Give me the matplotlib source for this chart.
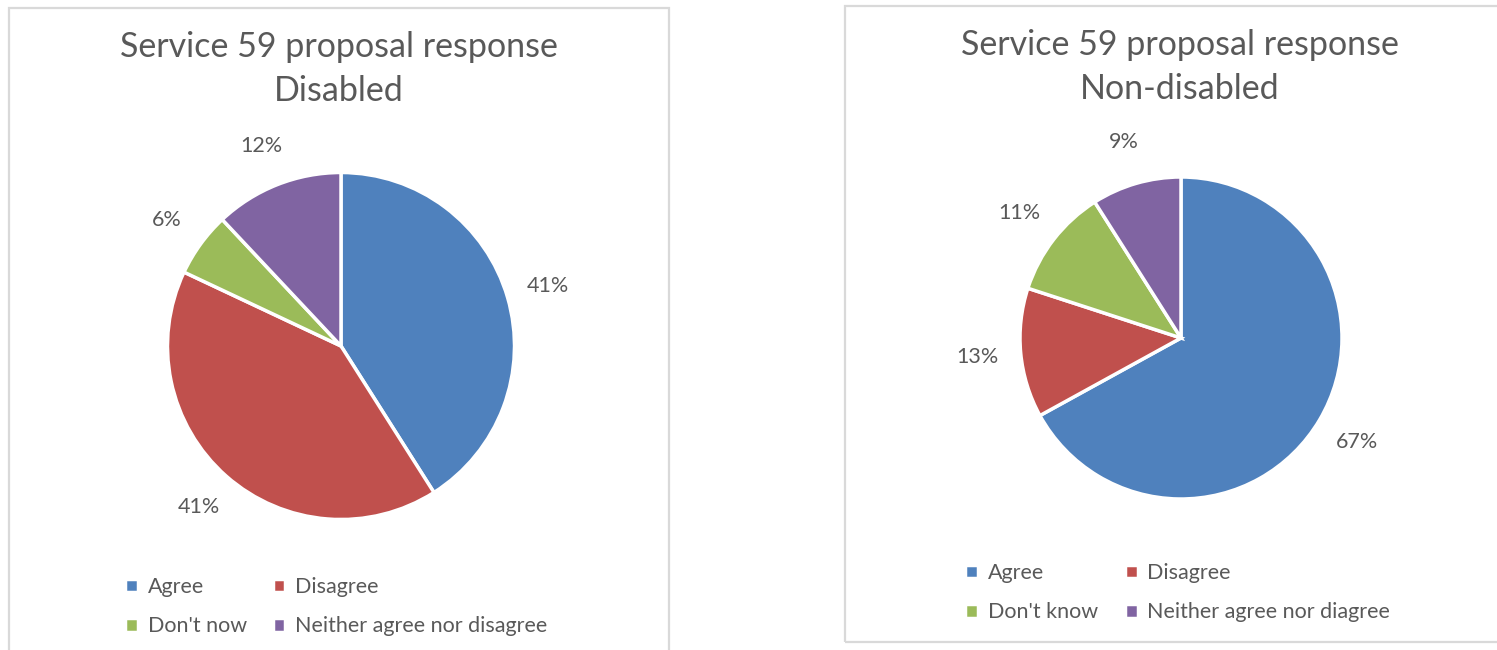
import matplotlib
matplotlib.use("Agg")
import matplotlib.pyplot as plt
from matplotlib.patches import Rectangle

plt.rcParams['font.family'] = ['Lato', 'DejaVu Sans']

# Survey responses (percent)
disabled_labels = ["Agree", "Disagree", "Don't now", "Neither agree nor disagree"]
disabled_values = [41, 41, 6, 12]

nondisabled_labels = ["Agree", "Disagree", "Don't know", "Neither agree nor diagree"]
nondisabled_values = [67, 13, 11, 9]

colors = ["#4F81BD", "#C0504D", "#9BBB59", "#8064A2"]
text_color = "#595959"
border_color = "#D9D9D9"

W, H = 1497, 650
fig = plt.figure(figsize=(W / 100, H / 100), dpi=100)
fig.patch.set_facecolor("white")


def px_box(x0, y0, x1, y1):
    """Convert a pixel box (top-left origin) to figure-fraction [l, b, w, h]."""
    return [x0 / W, 1 - y1 / H, (x1 - x0) / W, (y1 - y0) / H]


def draw_panel(frame, center, radius, title, labels, values, label_dist,
               title_x, title_y, legend_anchor, colspace):
    # chart frame
    l, b, w, h = px_box(*frame)
    fig.patches.append(Rectangle((l, b), w, h, transform=fig.transFigure,
                                 fill=False, edgecolor=border_color,
                                 linewidth=1.6, zorder=0))
    cx, cy = center
    ax = fig.add_axes(px_box(cx - radius, cy - radius, cx + radius, cy + radius))
    wedges, texts = ax.pie(values, colors=colors, startangle=90, counterclock=False,
                           radius=1.0, labels=[f"{v}%" for v in values],
                           labeldistance=label_dist,
                           wedgeprops=dict(edgecolor="white", linewidth=2.5),
                           textprops=dict(color=text_color, fontsize=15.5))
    for t in texts:
        t.set_horizontalalignment("center")
        t.set_verticalalignment("center")
    ax.set_xlim(-1, 1)
    ax.set_ylim(-1, 1)
    ax.set_aspect("equal")
    ax.axis("off")

    fig.text(title_x / W, 1 - title_y / H, title, ha="center", va="center",
             fontsize=24.5, color=text_color, linespacing=1.47)

    # legend laid out row by row: (Agree, Disagree) / (Don't know, Neither)
    order = [0, 2, 1, 3]
    leg = fig.legend([wedges[i] for i in order], [labels[i] for i in order],
                     ncol=2, loc="upper left",
                     bbox_to_anchor=(legend_anchor[0] / W, 1 - legend_anchor[1] / H),
                     frameon=False, fontsize=15.5, handlelength=0.6, handleheight=0.6,
                     handletextpad=0.45, columnspacing=colspace, labelspacing=0.9,
                     borderaxespad=0, borderpad=0)
    for t in leg.get_texts():
        t.set_color(text_color)
    return ax


draw_panel((9, 8, 669, 660), (341, 346), 173.5,
           "Service 59 proposal response\nDisabled",
           disabled_labels, disabled_values, 1.24,
           339, 69, (125, 577), 1.2)

draw_panel((845, 6, 1500, 642), (1181, 338), 161,
           "Service 59 proposal response\nNon-disabled",
           nondisabled_labels, nondisabled_values, 1.27,
           1180, 67, (965, 563), 1.25)

fig.savefig("out.png", dpi=100, facecolor="white")
